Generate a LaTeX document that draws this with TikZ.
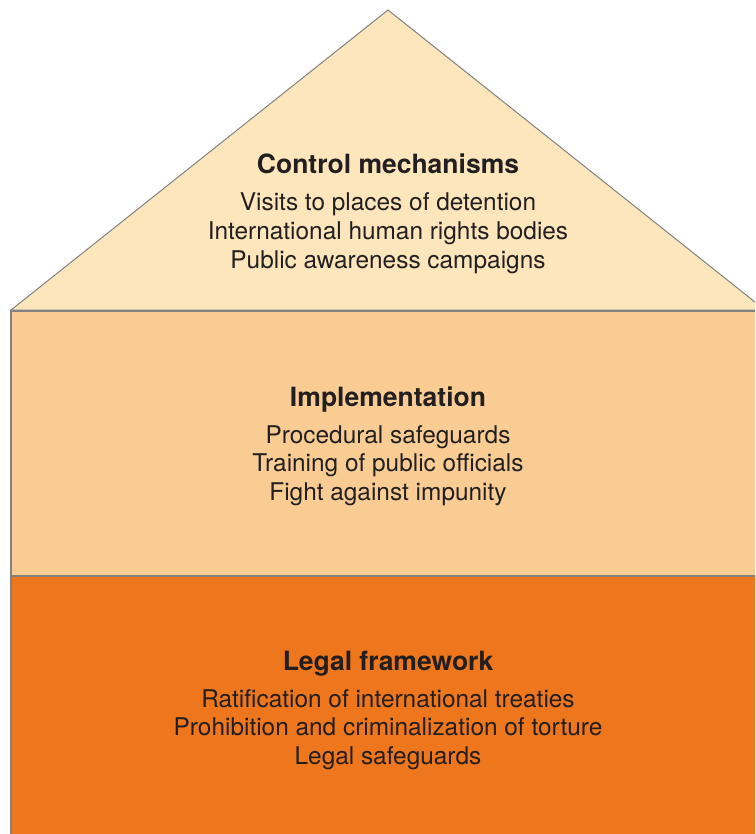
\documentclass[tikz,border=0pt]{standalone}
\usepackage{fontspec}
\setmainfont{TeX Gyre Heros}
\definecolor{roofc}{RGB}{253,229,188}
\definecolor{midc}{RGB}{249,204,148}
\definecolor{basec}{RGB}{238,118,29}
\definecolor{edgec}{RGB}{130,130,130}
\definecolor{txtc}{RGB}{35,31,32}
\begin{document}
\begin{tikzpicture}[x=1pt,y=-1pt,
  block/.style={draw=edgec,line width=1.5pt},
  ttl/.style={anchor=base,inner sep=0pt,text=txtc,font=\fontsize{26.5}{29}\selectfont\bfseries},
  itm/.style={anchor=base,inner sep=0pt,text=txtc,font=\fontsize{24.4}{29}\selectfont}]
\useasboundingbox (0,0) rectangle (755,834);
\clip (0,0) rectangle (755,834);
\draw[block,line width=1pt,fill=roofc] (11,310) -- (388,10) -- (765,310) -- cycle;
\draw[block,fill=midc] (11,311) rectangle (775,576);
\draw[block,fill=basec] (11,576) rectangle (775,845);
% roof
\node[ttl] (t1) at (388,174) {Control mechanisms};
\node[itm] (a1) at (388,211) {Visits to places of detention};
\node[itm] (a2) at (388,239.5) {International human rights bodies};
\node[itm] (a3) at (388,268) {Public awareness campaigns};
% middle
\node[ttl] (t2) at (388,406) {Implementation};
\node[itm] (b1) at (388,443) {Procedural safeguards};
\node[itm] (b2) at (388,471.5) {Training of public officials};
\node[itm] (b3) at (388,500) {Fight against impunity};
% base
\node[ttl] (t3) at (388,670) {Legal framework};
\node[itm] (c1) at (388,707) {Ratification of international treaties};
\node[itm] (c2) at (388,735.5) {Prohibition and criminalization of torture};
\node[itm] (c3) at (388,764) {Legal safeguards};
\end{tikzpicture}
\end{document}
